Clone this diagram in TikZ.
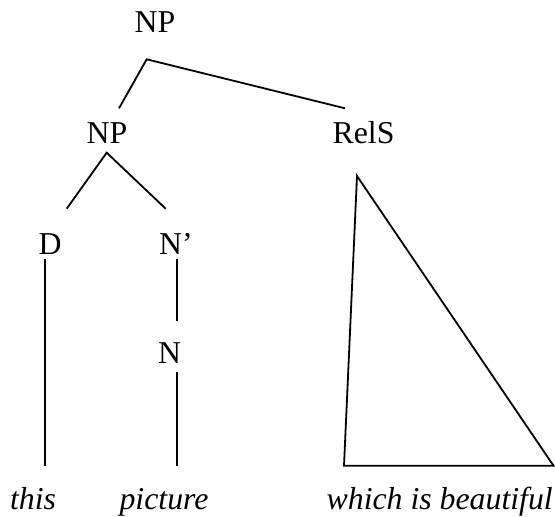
\documentclass[tikz,border=0pt]{standalone}
\usepackage{fontspec}
\setmainfont{Liberation Serif}
\begin{document}
\begin{tikzpicture}[x=1bp,y=-1bp,
  lab/.style={anchor=base,inner sep=0pt,font=\fontsize{31.8bp}{38bp}\selectfont},
  word/.style={lab,font=\fontsize{31.8bp}{38bp}\selectfont\itshape},
  branch/.style={line width=1.8bp,line cap=butt,line join=miter}]
\useasboundingbox (0,0) rectangle (555,517);
% labels
\node[lab] (np) at (155,32.5) {NP};
\node[lab] (np2) at (107,144) {NP};
\node[lab] (rels) at (363.5,144) {RelS};
\node[lab] (d) at (50,254) {D};
\node[lab] (nbar) at (176,254) {N’};
\node[lab] (n) at (169.5,363.5) {N};
\node[word] (this) at (33,509.7) {this};
\node[word] (pic) at (164,509.7) {picture};
\node[word] (which) at (439.7,509.7) {which is beautiful};
% connector end points
\coordinate (npB) at (146.7,59.3);
\coordinate (np2T) at (119,108.3);
\coordinate (relsT) at (345,108.3);
\coordinate (np2B) at (106.7,152.7);
\coordinate (dT) at (66.7,208.7);
\coordinate (nbarT) at (165.7,208.7);
\coordinate (dB) at (45,258.7);
\coordinate (thisT) at (45,466.3);
\coordinate (nbarB) at (176.7,258.7);
\coordinate (nT) at (176.7,321);
\coordinate (nB) at (176.7,372.3);
\coordinate (picT) at (176.7,466.3);
\coordinate (triA) at (357,176);
\coordinate (triL) at (344,465.7);
\coordinate (triR) at (553.5,465.7);
% branches
\draw[branch] (np2T) -- (npB) -- (relsT);
\draw[branch] (dT) -- (np2B) -- (nbarT);
\draw[branch] (dB) -- (thisT);
\draw[branch] (nbarB) -- (nT);
\draw[branch] (nB) -- (picT);
\draw[branch] (triA) -- (triL) -- (triR) -- cycle;
\end{tikzpicture}
\end{document}
